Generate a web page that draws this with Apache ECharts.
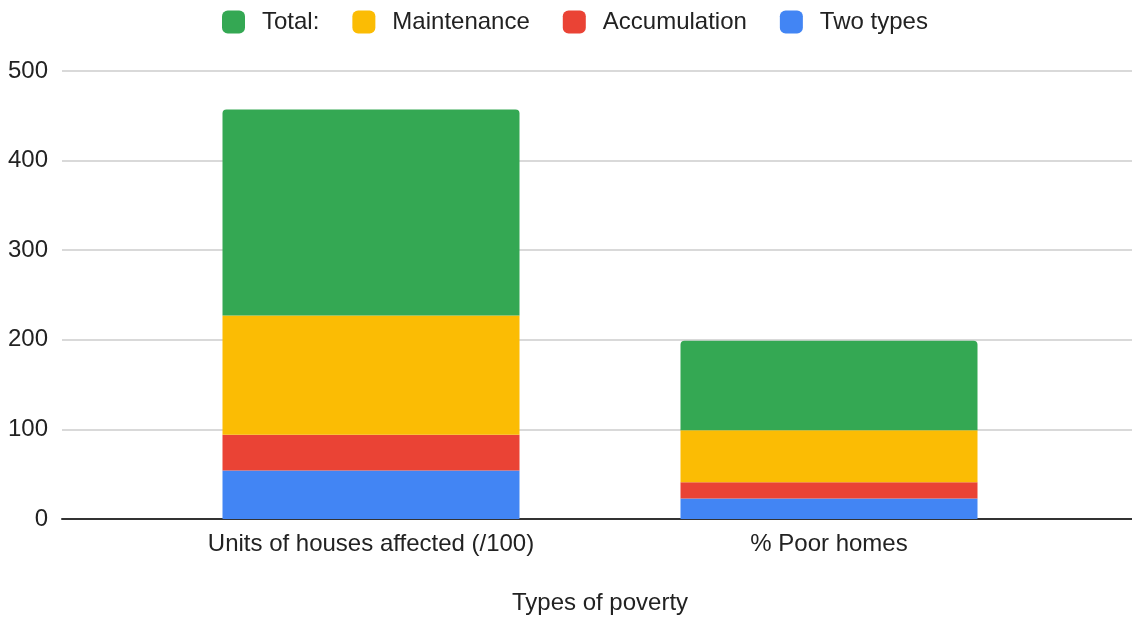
<!DOCTYPE html>
<html>
<head>
<meta charset="utf-8">
<script src="https://cdn.jsdelivr.net/npm/echarts@6/dist/echarts.min.js"></script>
<style>
  html, body { margin: 0; padding: 0; background: #fff; }
  #main { width: 1132px; height: 617px; }
</style>
</head>
<body>
<div id="main"></div>
<script>
var categories = ['Units of houses affected (/100)', '% Poor homes'];
var twoTypes = [54, 23];
var accumulation = [40, 18];
var maintenance = [133, 58];
var total = [230, 100];
var yTicks = [0, 100, 200, 300, 400, 500];

var myChart = echarts.init(document.getElementById('main'));
var font = 'Liberation Sans, Arial, sans-serif';

function bar(name, values, color, radius) {
    return {
        name: name,
        type: 'bar',
        stack: 'all',
        xAxisIndex: 1,
        yAxisIndex: 1,
        barWidth: 297,
        data: values,
        itemStyle: { color: color, borderRadius: radius || 0 }
    };
}

var option = {
    animation: false,
    textStyle: { fontFamily: font },
    legend: {
        top: 5,
        left: 217,
        itemWidth: 23,
        itemHeight: 23,
        itemGap: 33,
        icon: 'roundRect',
        data: ['Total:', 'Maintenance', 'Accumulation', 'Two types'],
        textStyle: { fontSize: 24, color: '#222', padding: [0, 0, 0, 12] }
    },
    grid: [
        { left: 62, right: 0, top: 71, bottom: 98, outerBoundsMode: 'none', containLabel: false },
        { left: 142, right: 74, top: 71, bottom: 98, outerBoundsMode: 'none', containLabel: false }
    ],
    xAxis: [
        {
            gridIndex: 0,
            type: 'category',
            data: categories,
            axisLine: { lineStyle: { color: '#333', width: 2 } },
            axisTick: { show: false },
            axisLabel: { show: false },
            splitLine: { show: false }
        },
        {
            gridIndex: 1,
            type: 'category',
            data: categories,
            axisLine: { show: false },
            axisTick: { show: false },
            axisLabel: { fontSize: 24, color: '#222', margin: 13, fontFamily: font },
            name: 'Types of poverty',
            nameLocation: 'middle',
            nameGap: 72,
            nameTextStyle: { fontSize: 24, color: '#222', fontFamily: font }
        }
    ],
    yAxis: [
        {
            gridIndex: 0,
            type: 'value',
            min: yTicks[0],
            max: yTicks[yTicks.length - 1],
            interval: 100,
            axisLine: { show: false },
            axisTick: { show: false },
            axisLabel: { fontSize: 24, color: '#222', margin: 14, fontFamily: font },
            splitLine: { lineStyle: { color: '#ccc', width: 1.5 } }
        },
        {
            gridIndex: 1,
            type: 'value',
            min: yTicks[0],
            max: yTicks[yTicks.length - 1],
            interval: 100,
            show: false,
            splitLine: { show: false }
        }
    ],
    series: [
        bar('Two types', twoTypes, '#4285f4'),
        bar('Accumulation', accumulation, '#ea4335'),
        bar('Maintenance', maintenance, '#fbbc04'),
        bar('Total:', total, '#34a853', [4, 4, 0, 0])
    ]
};

myChart.setOption(option);
</script>
</body>
</html>
